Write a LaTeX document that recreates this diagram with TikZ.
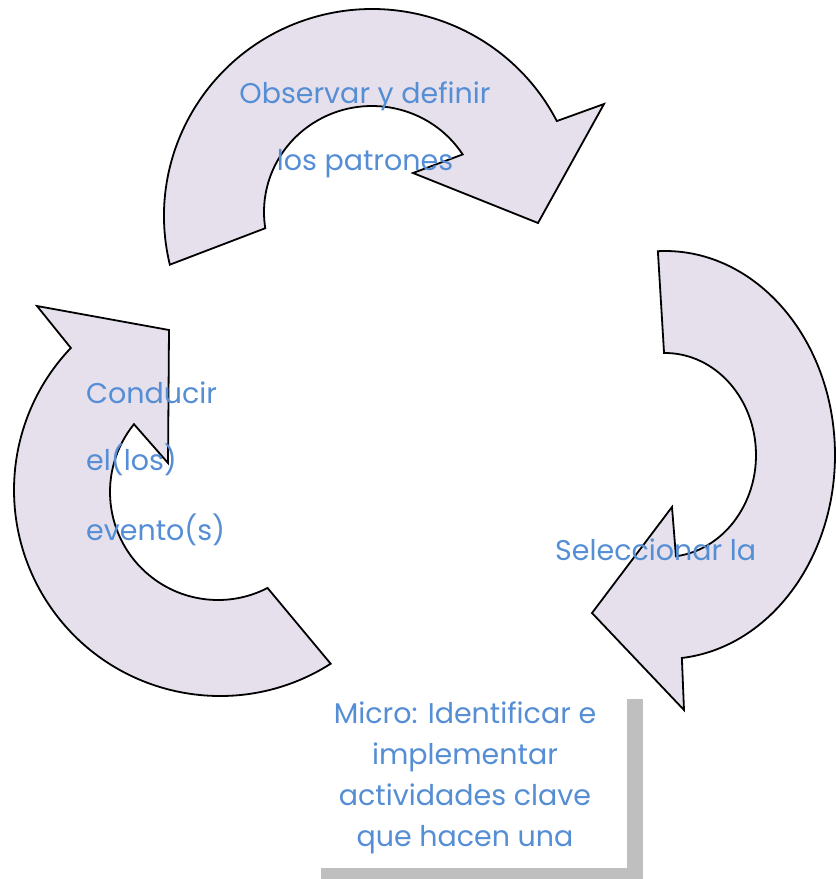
\documentclass[tikz,border=0pt]{standalone}
\usepackage{fontspec}
\setmainfont{Poppins}
\usepackage{tikz}
\usetikzlibrary{calc, positioning}
\definecolor{arrowfill}{HTML}{E5E0EC}
\definecolor{txtblue}{HTML}{558ED5}
\definecolor{shadowgray}{HTML}{BFBFBF}

\begin{document}
\begin{tikzpicture}[x=1pt,y=-1pt,
  cyc/.style={draw=black, fill=arrowfill, line width=1.8pt, line join=miter},
  lbl/.style={text=txtblue, font=\fontsize{28.5}{32}\selectfont, inner sep=0pt}]
\useasboundingbox (0,0) rectangle (836,879);
% top arrow
\draw[cyc] ([shift={(372,216)}]166.4:208 and 207)
  arc[start angle=166.4, end angle=332.7, x radius=208, y radius=207]
  -- (604,104) -- (538,223) -- (413,173)
  -- ([shift={(372,212)}]327.1:108 and 106)
  arc[start angle=327.1, end angle=171.2, x radius=108, y radius=106] -- cycle;
% right arrow
\draw[cyc] ([shift={(665,455)}]267.6:170 and 204)
  arc[start angle=267.6, end angle=444.3, x radius=170, y radius=204]
  -- (684,710) -- (592,613) -- (672,507)
  -- ([shift={(665,455)}]443.1:91 and 102)
  arc[start angle=443.1, end angle=269.4, x radius=91, y radius=102] -- cycle;
% left arrow
\draw[cyc] ([shift={(220,490)}]57.5:206 and 206)
  arc[start angle=57.5, end angle=223.6, x radius=206, y radius=206]
  -- (37,306) -- (169,330) -- (168,463)
  -- ([shift={(218,492)}]218.9:108 and 108)
  arc[start angle=218.9, end angle=62.7, x radius=108, y radius=108] -- cycle;
% box with shadow
\fill[shadowgray] (321,699) rectangle (643,879);
\fill[white] (305,688) rectangle (627,868);

\node[lbl, anchor=base] (obs1) at (365,103) {Observar y definir};
\node[lbl, anchor=base] (obs2) at (365,170) {los patrones};
\node[lbl, anchor=base west] (cond1) at (86,403) {Conducir};
\node[lbl, anchor=base west] (cond2) at (86,470) {el(los)};
\node[lbl, anchor=base west] (cond3) at (86,540) {evento(s)};
\node[lbl, anchor=base west] (sel) at (555,560) {Seleccionar la};
\foreach \t [count=\i] in {Micro: Identificar e, implementar, actividades clave, que hacen una}
  \node[lbl, anchor=base] (micro\i) at (465,{723+41.3*(\i-1)}) {\t};
\end{tikzpicture}
\end{document}
